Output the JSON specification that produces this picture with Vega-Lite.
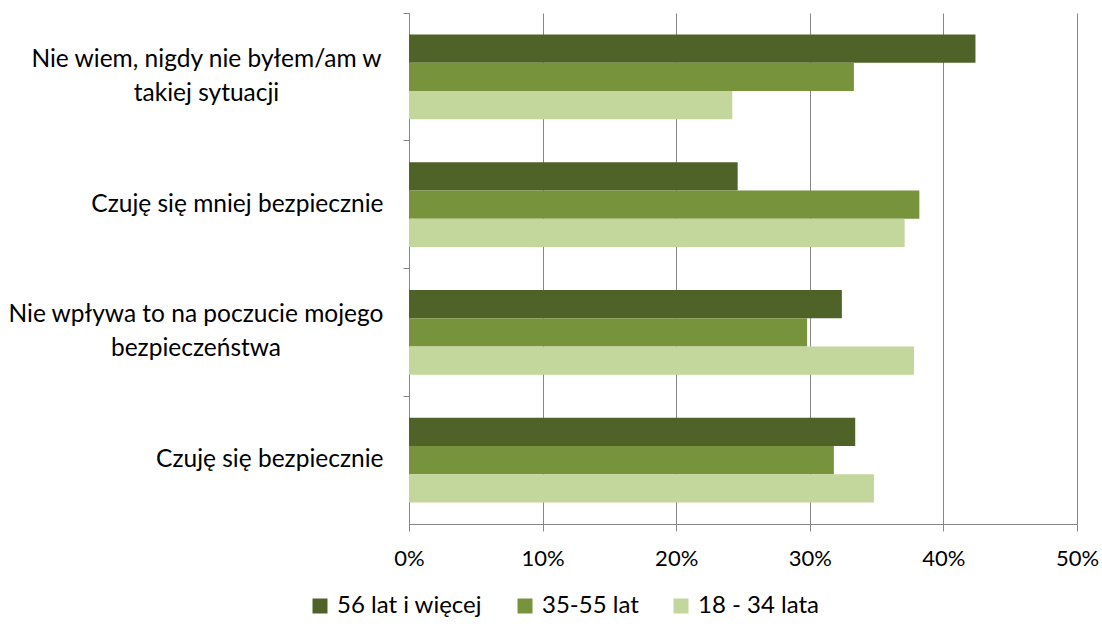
{
  "$schema": "https://vega.github.io/schema/vega-lite/v6.json",
  "width": 668,
  "height": 511,
  "autosize": "none",
  "padding": {"left": 409, "top": 13, "right": 25, "bottom": 103},
  "background": "white",
  "config": {"view": {"stroke": null}, "font": "Lato"},
  "data": {
    "values": [
      {"odp": "Nie wiem, nigdy nie byłem/am w|takiej sytuacji", "grupa": "56 lat i więcej", "wartosc": 0.424},
      {"odp": "Nie wiem, nigdy nie byłem/am w|takiej sytuacji", "grupa": "35-55 lat", "wartosc": 0.333},
      {"odp": "Nie wiem, nigdy nie byłem/am w|takiej sytuacji", "grupa": "18 - 34 lata", "wartosc": 0.242},
      {"odp": "Czuję się mniej bezpiecznie", "grupa": "56 lat i więcej", "wartosc": 0.246},
      {"odp": "Czuję się mniej bezpiecznie", "grupa": "35-55 lat", "wartosc": 0.382},
      {"odp": "Czuję się mniej bezpiecznie", "grupa": "18 - 34 lata", "wartosc": 0.371},
      {"odp": "Nie wpływa to na poczucie mojego|bezpieczeństwa", "grupa": "56 lat i więcej", "wartosc": 0.324},
      {"odp": "Nie wpływa to na poczucie mojego|bezpieczeństwa", "grupa": "35-55 lat", "wartosc": 0.298},
      {"odp": "Nie wpływa to na poczucie mojego|bezpieczeństwa", "grupa": "18 - 34 lata", "wartosc": 0.378},
      {"odp": "Czuję się bezpiecznie", "grupa": "56 lat i więcej", "wartosc": 0.334},
      {"odp": "Czuję się bezpiecznie", "grupa": "35-55 lat", "wartosc": 0.318},
      {"odp": "Czuję się bezpiecznie", "grupa": "18 - 34 lata", "wartosc": 0.348}
    ]
  },
  "mark": {"type": "bar"},
  "encoding": {
    "y": {
      "field": "odp",
      "type": "nominal",
      "sort": [
        "Nie wiem, nigdy nie byłem/am w|takiej sytuacji",
        "Czuję się mniej bezpiecznie",
        "Nie wpływa to na poczucie mojego|bezpieczeństwa",
        "Czuję się bezpiecznie"
      ],
      "scale": {"paddingInner": 0, "paddingOuter": 0},
      "axis": {
        "title": null,
        "domainColor": "#868686",
        "ticks": true,
        "bandPosition": 0,
        "tickColor": "#868686",
        "tickSize": 6,
        "labelFontSize": 24.5,
        "labelColor": "#000000",
        "labelLimit": 0,
        "labelLineHeight": 34,
        "labelExpr": "split(datum.value, '|')",
        "labelAlign": {"condition": {"test": "indexof(datum.value, '|') >= 0", "value": "center"}, "value": "right"},
        "labelOffset": {"condition": {"test": "indexof(datum.value, '|') >= 0", "value": -17}, "value": 0},
        "labelPadding": {"condition": [
          {"test": "indexof(datum.value, 'Nie wiem') >= 0", "value": 197},
          {"test": "indexof(datum.value, 'Nie wpływa') >= 0", "value": 207.5}
        ], "value": 20}
      }
    },
    "yOffset": {
      "field": "grupa",
      "type": "nominal",
      "sort": ["56 lat i więcej", "35-55 lat", "18 - 34 lata"],
      "scale": {"paddingInner": 0, "paddingOuter": 0.7545}
    },
    "x": {
      "field": "wartosc",
      "type": "quantitative",
      "scale": {"domain": [0, 0.5]},
      "axis": {
        "title": null,
        "format": ".0%",
        "values": [0, 0.1, 0.2, 0.3, 0.4, 0.5],
        "grid": true,
        "gridColor": "#868686",
        "gridOpacity": 1,
        "domainColor": "#868686",
        "tickColor": "#868686",
        "tickSize": 7,
        "labelFontSize": 22,
        "labelColor": "#000000",
        "labelPadding": 17,
        "labelFlush": false
      }
    },
    "color": {
      "field": "grupa",
      "type": "nominal",
      "sort": ["56 lat i więcej", "35-55 lat", "18 - 34 lata"],
      "scale": {
        "domain": ["56 lat i więcej", "35-55 lat", "18 - 34 lata"],
        "range": ["#4F6228", "#77933C", "#C3D69B"]
      },
      "legend": {
        "title": null,
        "orient": "none",
        "direction": "horizontal",
        "legendX": -101,
        "legendY": 581,
        "symbolType": "square",
        "symbolSize": 225,
        "symbolStrokeWidth": 0,
        "labelFontSize": 24,
        "labelColor": "#000000",
        "labelOffset": 5,
        "columnPadding": 30,
        "labelLimit": 0
      }
    }
  }
}
